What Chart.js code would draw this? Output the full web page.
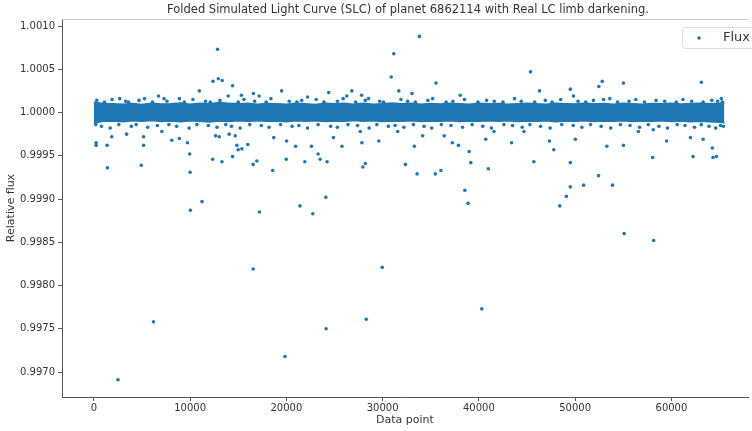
<!DOCTYPE html>
<html>
<head>
<meta charset="utf-8">
<script src="https://cdn.jsdelivr.net/npm/chart.js@4.4.0/dist/chart.umd.min.js"></script>
<style>
  body { margin: 0; background: #fff; overflow: hidden; }
</style>
</head>
<body>
<canvas id="c" width="752" height="431"></canvas>
<script>
// axis ticks
var xTicks = [0, 10000, 20000, 30000, 40000, 50000, 60000];
var yTicks = [0.9970, 0.9975, 0.9980, 0.9985, 0.9990, 0.9995, 1.0000, 1.0005, 1.0010];

// dense band of points round 1.0000 (edges)
var bandX = [0, 1000, 2000, 3000, 4000, 5000, 6000, 7000, 8000, 9000, 10000, 11000, 12000, 13000,
  14000, 15000, 16000, 17000, 18000, 19000, 20000, 21000, 22000, 23000, 24000, 25000, 26000, 27000,
  28000, 29000, 30000, 31000, 32000, 33000, 34000, 35000, 36000, 37000, 38000, 39000, 40000, 41000,
  42000, 43000, 44000, 45000, 46000, 47000, 48000, 49000, 50000, 51000, 52000, 53000, 54000, 55000,
  56000, 57000, 58000, 59000, 60000, 61000, 62000, 63000, 64000, 65000, 65500];
var bandUpper = [1.000120, 1.000104, 1.000100, 1.000096, 1.000104, 1.000094, 1.000106, 1.000098, 1.000102, 1.000110, 1.000096, 1.000108, 1.000102, 1.000116,
  1.000108, 1.000100, 1.000106, 1.000096, 1.000104, 1.000100, 1.000096, 1.000108, 1.000102, 1.000094, 1.000106, 1.000100, 1.000108, 1.000096,
  1.000106, 1.000096, 1.000102, 1.000110, 1.000100, 1.000106, 1.000096, 1.000104, 1.000098, 1.000106, 1.000100, 1.000096, 1.000106, 1.000100,
  1.000104, 1.000096, 1.000102, 1.000108, 1.000100, 1.000096, 1.000106, 1.000102, 1.000098, 1.000106, 1.000100, 1.000104, 1.000096, 1.000106,
  1.000100, 1.000096, 1.000104, 1.000100, 1.000106, 1.000098, 1.000104, 1.000108, 1.000102, 1.000106, 1.000115];
var bandLower = [0.999878, 0.999898, 0.999902, 0.999892, 0.999905, 0.999898, 0.999908, 0.999895, 0.999902, 0.999893, 0.999905, 0.999898, 0.999891, 0.999902,
  0.999895, 0.999904, 0.999898, 0.999906, 0.999898, 0.999902, 0.999893, 0.999904, 0.999898, 0.999906, 0.999895, 0.999902, 0.999898, 0.999908,
  0.999898, 0.999904, 0.999895, 0.999902, 0.999898, 0.999906, 0.999895, 0.999902, 0.999898, 0.999906, 0.999895, 0.999902, 0.999898, 0.999904,
  0.999898, 0.999906, 0.999895, 0.999902, 0.999898, 0.999906, 0.999893, 0.999902, 0.999898, 0.999904, 0.999895, 0.999902, 0.999898, 0.999906,
  0.999895, 0.999902, 0.999898, 0.999904, 0.999895, 0.999901, 0.999893, 0.999898, 0.999892, 0.999888, 0.999882];

// scattered points off the band
var fluxX = [12850, 12380, 12930, 13340, 14410, 10960, 19510, 24400, 26800, 16580, 15340, 2690, 5270, 6720, 8890,
  13960, 17170, 22200, 26280, 27820, 28540, 33820, 31160, 30890, 35540, 45370, 52810, 52460, 55020, 63110,
  31680, 33060, 49500, 46300, 38060, 65180, 49820, 52950,
  1420, 4930, 10000, 11240, 10030, 17200, 21410, 22750, 24100, 18580, 12340, 13310, 14410, 16550, 16930,
  19990, 21920, 23300, 23510, 24230, 9960, 14860, 15380, 16000, 15000, 22610, 20960, 20030, 18690, 12650,
  13030, 14060, 14690, 9720, 8890, 8100, 240, 240, 1380, 1860, 3410, 5170, 5170, 7060, 25780, 24890, 27680,
  27850, 27950, 28200, 32370, 33580, 35470, 36060, 38540, 38880, 39160, 38990, 40980, 45710, 47780, 48400,
  49090, 49500, 49500, 50880, 52430, 53880, 58040, 62250, 64320, 64670, 64250, 33300, 37880, 37240, 36400,
  40710, 43400, 47330, 50020, 53290, 55020, 59500, 61980, 63290, 31570, 29610, 34160, 41570, 44680, 56570, 58120,
  2510, 6200, 16550, 19860, 24130, 28300, 29960, 40300, 55090, 58150,
  300, 1100, 1900, 3300, 3600, 4700, 6100, 7300, 7600, 9400, 10300, 11600, 12100, 13100, 15000, 15600,
  16700, 17900, 18400, 20300, 21100, 21600, 23100, 23900, 25300, 25900, 27200, 28200, 29700, 30100, 31900,
  32600, 33400, 34700, 35200, 36600, 37300, 38500, 39900, 40800, 41600, 42500, 43700, 44400, 45800, 46900,
  47600, 48500, 50300, 51100, 51900, 53600, 54400, 55600, 56300, 57200, 58400, 59300, 60500, 61200, 62100,
  63300, 64200, 64800, 65300,
  200, 800, 1700, 2600, 3900, 4400, 5600, 6600, 7800, 8600, 9900, 10700, 11900, 12800, 13700, 14300,
  15200, 16200, 17400, 18200, 19400, 20600, 21300, 22200, 23300, 24600, 25300, 26400, 27400, 28600, 29400,
  30600, 31300, 32200, 33200, 34300, 35100, 36100, 37100, 38300, 39300, 40400, 41300, 42600, 43500, 44500,
  45300, 46400, 47400, 48600, 49800, 50700, 51600, 52700, 53700, 54700, 55700, 56700, 57600, 58700, 59600,
  60600, 61400, 62400, 63100, 63900, 64600, 65100, 65400];
var fluxY = [1.00073, 1.00036, 1.00039, 1.00037, 1.00031, 1.00025, 1.00025, 1.00023, 1.00025, 1.00022, 1.00020, 1.00016, 1.00016, 1.00019, 1.00016,
  1.00019, 1.00019, 1.00018, 1.00019, 1.00020, 1.00016, 1.00088, 1.00068, 1.00041, 1.00034, 1.00047, 1.00036, 1.00030, 1.00034, 1.00035,
  1.00025, 1.00022, 1.00027, 1.00025, 1.00020, 1.00016, 1.00019, 1.00015,
  0.99936, 0.99939, 0.99931, 0.99897, 0.99887, 0.99885, 0.99892, 0.99883, 0.99902, 0.99933, 0.99946, 0.99943, 0.99949, 0.99940, 0.99944,
  0.99946, 0.99943, 0.99952, 0.99946, 0.99943, 0.99952, 0.99962, 0.99958, 0.99963, 0.99957, 0.99961, 0.99961, 0.99967, 0.99971, 0.99973,
  0.99972, 0.99975, 0.99973, 0.99965, 0.99970, 0.99968, 0.99962, 0.99965, 0.99962, 0.99972, 0.99975, 0.99962, 0.99972, 0.99978, 0.99961, 0.99971, 0.99978,
  0.99965, 0.99937, 0.99941, 0.99940, 0.99929, 0.99929, 0.99933, 0.99910, 0.99895, 0.99942, 0.99955, 0.99935, 0.99943, 0.99957, 0.99892,
  0.99903, 0.99914, 0.99942, 0.99916, 0.99927, 0.99916, 0.99948, 0.99949, 0.99948, 0.99949, 0.99959, 0.99961, 0.99962, 0.99965, 0.99973,
  0.99969, 0.99965, 0.99967, 0.99969, 0.99961, 0.99962, 0.99967, 0.99971, 0.99969, 0.99978, 0.99967, 0.99973, 0.99978, 0.99978, 0.99978, 0.99980,
  0.99691, 0.99758, 0.99819, 0.99718, 0.99750, 0.99761, 0.99821, 0.99773, 0.99860, 0.99852,
  1.00014, 1.00012, 1.00015, 1.00013, 1.00012, 1.00014, 1.00012, 1.00016, 1.00013, 1.00012, 1.00015, 1.00013, 1.00012, 1.00014, 1.00012, 1.00015,
  1.00013, 1.00012, 1.00016, 1.00013, 1.00012, 1.00014, 1.00015, 1.00012, 1.00013, 1.00016, 1.00012, 1.00014, 1.00013, 1.00012, 1.00015,
  1.00013, 1.00012, 1.00014, 1.00016, 1.00012, 1.00013, 1.00015, 1.00012, 1.00014, 1.00013, 1.00012, 1.00016, 1.00013, 1.00012, 1.00014,
  1.00012, 1.00015, 1.00013, 1.00012, 1.00014, 1.00016, 1.00012, 1.00013, 1.00015, 1.00012, 1.00014, 1.00013, 1.00012, 1.00015, 1.00013,
  1.00012, 1.00014, 1.00013, 1.00012,
  0.99986, 0.99984, 0.99982, 0.99986, 0.99984, 0.99986, 0.99983, 0.99985, 0.99986, 0.99984, 0.99982, 0.99986, 0.99985, 0.99983, 0.99986, 0.99984,
  0.99982, 0.99986, 0.99985, 0.99983, 0.99986, 0.99984, 0.99985, 0.99982, 0.99986, 0.99984, 0.99983, 0.99986, 0.99985, 0.99982, 0.99986,
  0.99984, 0.99985, 0.99983, 0.99986, 0.99984, 0.99982, 0.99986, 0.99985, 0.99983, 0.99986, 0.99984, 0.99982, 0.99986, 0.99985, 0.99983,
  0.99986, 0.99984, 0.99982, 0.99986, 0.99985, 0.99983, 0.99986, 0.99984, 0.99982, 0.99986, 0.99985, 0.99983, 0.99986, 0.99984, 0.99982,
  0.99986, 0.99985, 0.99983, 0.99986, 0.99984, 0.99982, 0.99985, 0.99984];

var blue = '#1f77b4';
var textCol = '#333';
var fontFam = '"DejaVu Sans", sans-serif';

function pairs(xs, ys) {
  return xs.map(function (x, i) { return {x: x, y: ys[i]}; });
}

// title over the plot area, top frame line and a boxed legend like matplotlib's
var decor = {
  id: 'decor',
  afterDraw: function (chart) {
    var ctx = chart.ctx, a = chart.chartArea;
    ctx.save();
    ctx.strokeStyle = '#c8c8c8';
    ctx.lineWidth = 1;
    ctx.beginPath();
    ctx.moveTo(a.left, a.top + 0.5);
    ctx.lineTo(a.right, a.top + 0.5);
    ctx.stroke();

    ctx.fillStyle = textCol;
    ctx.font = '11.5px ' + fontFam;
    ctx.textAlign = 'center';
    ctx.textBaseline = 'middle';
    ctx.fillText('Folded Simulated Light Curve (SLC) of planet 6862114 with Real LC limb darkening.', (a.left + a.right) / 2 + 3, 10);

    // legend
    ctx.fillStyle = 'rgba(255,255,255,0.85)';
    ctx.strokeStyle = '#dcdcdc';
    ctx.beginPath();
    ctx.roundRect(682.5, 27.5, 80, 21, 3);
    ctx.fill();
    ctx.stroke();
    ctx.fillStyle = blue;
    ctx.beginPath();
    ctx.arc(699, 38, 1.8, 0, Math.PI * 2);
    ctx.fill();
    ctx.fillStyle = textCol;
    ctx.font = '13px ' + fontFam;
    ctx.textAlign = 'left';
    ctx.fillText(chart.data.datasets[2].label, 723, 38);
    ctx.restore();
  }
};

var ctx = document.getElementById('c').getContext('2d');
var chart = new Chart(ctx, {
  type: 'scatter',
  data: {
    datasets: [{
        label: 'band top',
        data: pairs(bandX, bandUpper),
        showLine: true,
        borderColor: blue,
        borderWidth: 1.5,
        backgroundColor: blue,
        pointRadius: 0,
        fill: false
      },
      {
        label: 'band bottom',
        data: pairs(bandX, bandLower),
        showLine: true,
        borderColor: blue,
        borderWidth: 1.5,
        backgroundColor: blue,
        pointRadius: 0,
        fill: '-1'
      },
      {
        label: 'Flux',
        data: pairs(fluxX, fluxY),
        backgroundColor: blue,
        borderWidth: 0,
        pointRadius: 1.8
      }]
  },
  options: {
    responsive: false,
    animation: false,
    devicePixelRatio: 1,
    layout: {padding: {top: 19, right: 0, bottom: 0, left: 0}},
    plugins: {
      legend: {display: false},
      title: {display: false},
      tooltip: {enabled: false}
    },
    scales: {
      x: {
        type: 'linear',
        min: -3305,
        max: 67955,
        afterBuildTicks: function (s) { s.ticks = xTicks.map(function (v) { return {value: v}; }); },
        afterFit: function (s) { s.height = 34; },
        ticks: {
          color: textCol,
          font: {family: fontFam, size: 10},
          padding: 1,
          maxRotation: 0,
          callback: function (v) { return String(v); }
        },
        grid: {drawOnChartArea: false, tickLength: 4, color: '#555'},
        border: {color: '#555'},
        title: {display: true, text: 'Data point', color: textCol, font: {family: fontFam, size: 11}, padding: {top: 0, bottom: 4}}
      },
      y: {
        min: 0.996711,
        max: 1.001081,
        afterBuildTicks: function (s) { s.ticks = yTicks.map(function (v) { return {value: v}; }); },
        afterFit: function (s) { s.width = 62; },
        ticks: {
          color: textCol,
          font: {family: fontFam, size: 10},
          padding: 3,
          callback: function (v) { return v.toFixed(4); }
        },
        grid: {drawOnChartArea: false, tickLength: 4, color: '#555'},
        border: {color: '#555'},
        title: {display: true, text: 'Relative flux', color: textCol, font: {family: fontFam, size: 11}, padding: {top: 5, bottom: 0}}
      }
    }
  },
  plugins: [decor]
});
</script>
</body>
</html>
